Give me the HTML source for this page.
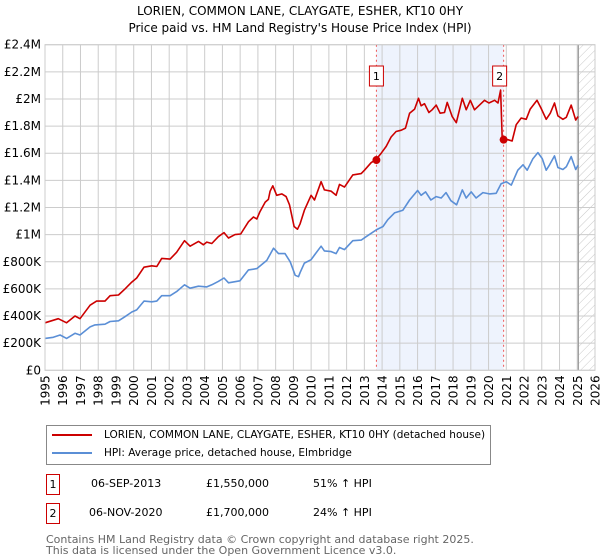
<!DOCTYPE html>
<html><head><meta charset="utf-8">
<style>
body{margin:0;background:#fff;font-family:"DejaVu Sans","Liberation Sans",sans-serif;}
#wrap{position:relative;width:600px;height:560px;overflow:hidden;}
</style></head>
<body>
<div id="wrap">
<svg id="chart" width="600" height="560" xmlns="http://www.w3.org/2000/svg" font-family="DejaVu Sans, Liberation Sans, sans-serif">
  <defs>
    <pattern id="hatch" width="6" height="6" patternUnits="userSpaceOnUse" patternTransform="rotate(45)">
      <line x1="0" y1="0" x2="0" y2="6" stroke="#bbb" stroke-width="0.8"/>
    </pattern>
  </defs>
  <text x="300" y="15" text-anchor="middle" font-size="12" fill="#000">LORIEN, COMMON LANE, CLAYGATE, ESHER, KT10 0HY</text>
  <text x="300" y="32" text-anchor="middle" font-size="12" fill="#000">Price paid vs. HM Land Registry's House Price Index (HPI)</text>
  <g id="plot"></g>
</svg>

<div style="position:absolute;left:46px;top:425px;width:445px;height:40px;border:1px solid #888;box-sizing:border-box;font-size:10.5px;">
  <div style="position:absolute;left:5px;top:3px;white-space:nowrap;"><span style="display:inline-block;width:40px;height:2px;background:#cc0000;vertical-align:middle;margin-right:12px;"></span>LORIEN, COMMON LANE, CLAYGATE, ESHER, KT10 0HY (detached house)</div>
  <div style="position:absolute;left:5px;top:21px;white-space:nowrap;"><span style="display:inline-block;width:40px;height:2px;background:#5b8fd6;vertical-align:middle;margin-right:12px;"></span>HPI: Average price, detached house, Elmbridge</div>
</div>

<div style="position:absolute;left:46px;top:474px;font-size:11px;width:500px;height:20px;">
  <span style="position:absolute;left:0;top:0;width:12px;height:19px;border:1px solid #cc0000;text-align:center;line-height:19px;">1</span>
  <span style="position:absolute;left:45px;top:3px;">06-SEP-2013</span>
  <span style="position:absolute;left:160px;top:3px;">£1,550,000</span>
  <span style="position:absolute;left:267px;top:3px;">51% ↑ HPI</span>
</div>
<div style="position:absolute;left:46px;top:503px;font-size:11px;width:500px;height:20px;">
  <span style="position:absolute;left:0;top:0;width:12px;height:19px;border:1px solid #cc0000;text-align:center;line-height:19px;">2</span>
  <span style="position:absolute;left:43px;top:3px;">06-NOV-2020</span>
  <span style="position:absolute;left:160px;top:3px;">£1,700,000</span>
  <span style="position:absolute;left:267px;top:3px;">24% ↑ HPI</span>
</div>
<div style="position:absolute;left:46px;top:534px;font-size:11px;color:#666;line-height:11px;">Contains HM Land Registry data © Crown copyright and database right 2025.<br>This data is licensed under the Open Government Licence v3.0.</div>
</div>

<script>
const yTickValues = [0,0.2,0.4,0.6,0.8,1.0,1.2,1.4,1.6,1.8,2.0,2.2,2.4];
const yTickLabels = ["£0","£200K","£400K","£600K","£800K","£1M","£1.2M","£1.4M","£1.6M","£1.8M","£2M","£2.2M","£2.4M"];
const xTickYears = [1995,1996,1997,1998,1999,2000,2001,2002,2003,2004,2005,2006,2007,2008,2009,2010,2011,2012,2013,2014,2015,2016,2017,2018,2019,2020,2021,2022,2023,2024,2025,2026];
const redYears = [1995.0,1995.75,1996.22,1996.69,1996.97,1997.54,1997.91,1998.38,1998.67,1999.14,1999.51,1999.89,2000.17,2000.58,2001.02,2001.3,2001.58,2002.05,2002.42,2002.86,2003.18,2003.65,2003.93,2004.12,2004.4,2004.77,2005.09,2005.34,2005.71,2006.03,2006.47,2006.75,2006.94,2007.12,2007.41,2007.59,2007.69,2007.84,2008.06,2008.35,2008.59,2008.78,2009.04,2009.23,2009.38,2009.62,2010.0,2010.19,2010.56,2010.75,2011.13,2011.41,2011.6,2011.88,2012.35,2012.82,2013.01,2013.38,2013.67,2013.95,2014.23,2014.51,2014.79,2015.08,2015.32,2015.55,2015.83,2016.05,2016.2,2016.39,2016.64,2016.82,2017.05,2017.27,2017.52,2017.67,2017.95,2018.18,2018.52,2018.74,2018.97,2019.21,2019.49,2019.77,2020.02,2020.34,2020.53,2020.68,2020.77,2020.85,2021.09,2021.33,2021.56,2021.84,2022.12,2022.35,2022.73,2022.97,2023.25,2023.48,2023.72,2023.91,2024.19,2024.38,2024.66,2024.91,2025.04];
const redValues = [0.35,0.38,0.35,0.40,0.38,0.48,0.51,0.51,0.55,0.555,0.60,0.65,0.68,0.76,0.77,0.765,0.825,0.82,0.87,0.955,0.915,0.95,0.925,0.945,0.935,0.985,1.015,0.975,1.0,1.005,1.095,1.13,1.115,1.17,1.24,1.26,1.32,1.36,1.29,1.30,1.28,1.22,1.06,1.04,1.08,1.18,1.29,1.255,1.39,1.33,1.32,1.29,1.37,1.35,1.44,1.45,1.475,1.53,1.555,1.60,1.65,1.72,1.76,1.77,1.785,1.895,1.925,2.005,1.95,1.965,1.90,1.92,1.955,1.895,1.90,1.975,1.87,1.825,2.005,1.92,1.99,1.92,1.955,1.99,1.97,1.99,1.97,2.065,1.71,1.70,1.70,1.69,1.81,1.86,1.85,1.925,1.99,1.93,1.85,1.895,1.97,1.875,1.85,1.865,1.955,1.845,1.87];
const hpiYears = [1995.0,1995.47,1995.85,1996.22,1996.69,1996.97,1997.54,1997.82,1998.38,1998.67,1999.14,1999.51,1999.89,2000.17,2000.58,2001.02,2001.3,2001.58,2002.05,2002.42,2002.86,2003.18,2003.65,2004.12,2004.4,2004.77,2005.09,2005.34,2005.99,2006.47,2006.94,2007.5,2007.88,2008.16,2008.53,2008.82,2009.1,2009.29,2009.38,2009.62,2010.0,2010.19,2010.56,2010.75,2011.13,2011.41,2011.6,2011.88,2012.35,2012.82,2013.1,2013.67,2014.05,2014.32,2014.7,2015.17,2015.55,2016.0,2016.2,2016.45,2016.75,2017.05,2017.33,2017.6,2017.88,2018.2,2018.52,2018.74,2019.02,2019.3,2019.68,2020.05,2020.43,2020.71,2021.0,2021.28,2021.65,2021.94,2022.18,2022.5,2022.78,2023.03,2023.25,2023.44,2023.72,2023.91,2024.19,2024.38,2024.66,2024.91,2025.04];
const hpiValues = [0.235,0.243,0.26,0.235,0.273,0.26,0.32,0.335,0.34,0.36,0.365,0.395,0.43,0.445,0.51,0.505,0.51,0.55,0.55,0.58,0.63,0.605,0.62,0.615,0.63,0.655,0.68,0.645,0.66,0.74,0.75,0.81,0.90,0.86,0.86,0.80,0.70,0.69,0.72,0.79,0.815,0.85,0.915,0.88,0.875,0.86,0.905,0.89,0.955,0.96,0.985,1.035,1.06,1.11,1.16,1.18,1.255,1.325,1.29,1.315,1.255,1.28,1.27,1.31,1.25,1.22,1.33,1.27,1.315,1.27,1.31,1.30,1.305,1.375,1.39,1.365,1.475,1.515,1.475,1.56,1.605,1.56,1.475,1.515,1.58,1.495,1.48,1.50,1.575,1.48,1.51];
const saleYears = [2013.68,2020.85];
const saleValues = [1.55,1.70];
const saleLabels = ["1","2"];

const NS="http://www.w3.org/2000/svg";
const L=45,R=595,T=44.7,B=370.3,X0=1995,X1=2026,YMAX=2.4;
function sx(y){return L+(y-X0)/(X1-X0)*(R-L);}
function sy(v){return B-v/YMAX*(B-T);}
const plot=document.getElementById('plot');
function mk(tag,attrs,parent){const e=document.createElementNS(NS,tag);for(const k in attrs)e.setAttribute(k,attrs[k]);(parent||plot).appendChild(e);return e;}

let sh=mk('rect',{x:sx(saleYears[0]),y:T,width:sx(saleYears[1])-sx(saleYears[0]),height:B-T,fill:'#eef3fd'});


const hx=sx(2025.06);
let ht=mk('rect',{x:hx,y:T,width:R-hx,height:B-T,fill:'url(#hatch)'});



yTickValues.forEach((v,i)=>{
  let g=mk('line',{x1:L,x2:R,y1:sy(v),y2:sy(v),stroke:'#cccccc','stroke-width':1});
  
  
  let t=mk('text',{x:L-4,y:sy(v)+4,'text-anchor':'end','font-size':12,fill:'#000'});
  t.textContent=yTickLabels[i];
  
  
});
xTickYears.forEach(yr=>{
  let g=mk('line',{x1:sx(yr),x2:sx(yr),y1:T,y2:B,stroke:'#cccccc','stroke-width':1});
  
  
  let t=mk('text',{x:0,y:0,'text-anchor':'end','font-size':12,fill:'#000',transform:`translate(${sx(yr)+4.5},${B+5}) rotate(-90)`});
  t.textContent=yr;
  
  
});
let vl=mk('line',{x1:hx,x2:hx,y1:T,y2:B,stroke:'#999','stroke-width':1.2});



saleYears.forEach((yr,i)=>{
  let d=mk('line',{x1:sx(yr),x2:sx(yr),y1:T,y2:B,stroke:'#ee5555','stroke-width':1,'stroke-dasharray':'2,3'});
  
  
});

function pathFrom(xs,vs){return xs.map((x,i)=>(i?'L':'M')+sx(x).toFixed(1)+','+sy(vs[i]).toFixed(1)).join(' ');}
let hp=mk('path',{d:pathFrom(hpiYears,hpiValues),fill:'none',stroke:'#5b8fd6','stroke-width':1.6,'stroke-linejoin':'round'});


let rp=mk('path',{d:pathFrom(redYears,redValues),fill:'none',stroke:'#cc0000','stroke-width':1.6,'stroke-linejoin':'round'});



saleYears.forEach((yr,i)=>{
  let c=mk('circle',{cx:sx(yr),cy:sy(saleValues[i]),r:4,fill:'#cc0000'});
  
  
  let b=mk('rect',{x:sx(yr)-7-(i?4:0),y:66,width:14,height:20,fill:'#fff',stroke:'#cc0000','stroke-width':1});
  
  
  let t=mk('text',{x:sx(yr)-(i?4:0),y:80,'text-anchor':'middle','font-size':11,fill:'#000'});
  t.textContent=saleLabels[i];
  
  
});
let fr=mk('rect',{x:L,y:T,width:R-L,height:B-T,fill:'none',stroke:'#cccccc','stroke-width':1});


</script>
</body></html>
